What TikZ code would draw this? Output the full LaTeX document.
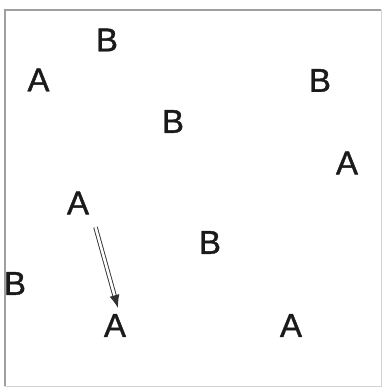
\documentclass[tikz,border=0pt]{standalone}
\usepackage{fontspec}
\setmainfont{Liberation Sans}
\newfontfamily\labfont[FakeBold=1.2]{Liberation Sans}
\usetikzlibrary{arrows.meta}
\definecolor{ink}{HTML}{1A1A1A}
\tikzset{
  lab/.style={font=\labfont\fontsize{33}{33}\selectfont, text=ink, inner sep=0pt, text height=23.6pt, text depth=0pt},
  dblarrow/.style={draw=ink!90, line width=0.9pt, double=white, double distance=2.6pt, -{Latex[length=13pt,width=10pt]}}
}
\begin{document}
\begin{tikzpicture}[x=1pt,y=-1pt]
\useasboundingbox (0,0) rectangle (383,388);
\draw[gray!75, line width=1.2pt] (5,386) -- (5,10) -- (381,10);
\draw[gray!35, line width=0.8pt] (381,10) -- (381,386) -- (5,386);
\node[lab] (b1) at (107,39.5) {B};
\node[lab] (a1) at (38.5,79.5) {A};
\node[lab] (b2) at (320,80) {B};
\node[lab] (b3) at (173,121) {B};
\node[lab] (a2) at (347,162.5) {A};
\node[lab] (a3) at (78,202.5) {A};
\node[lab] (b4) at (210,242) {B};
\node[lab] (b5) at (15,283) {B};
\node[lab] (a4) at (115,325) {A};
\node[lab] (a5) at (291,325) {A};
\draw[dblarrow] ([shift={(17.5pt,-12.7pt)}]a3.south) -- ([shift={(3pt,5pt)}]a4.north);
\end{tikzpicture}
\end{document}
